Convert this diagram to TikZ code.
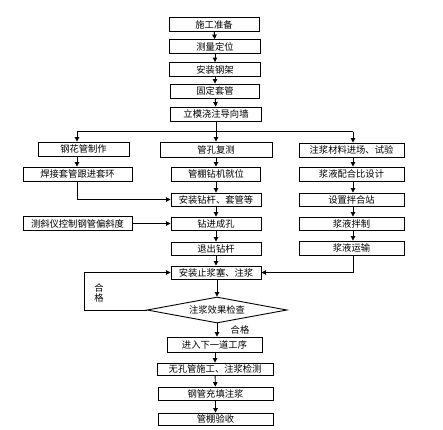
\documentclass[tikz,border=0pt]{standalone}
\usepackage{fontspec}
\newfontfamily\cjk{Noto Sans CJK SC}
\usetikzlibrary{arrows.meta,shapes.geometric}
\begin{document}
\begin{tikzpicture}[x=1pt,y=-1pt,
  box/.style={draw,line width=0.9pt,inner sep=0pt,minimum height=14pt,font=\cjk\fontsize{9.3}{9.5}\selectfont},
  lbl/.style={inner sep=0pt,font=\cjk\fontsize{9.3}{9.5}\selectfont},
  arr/.style={line width=0.9pt,-{Triangle[length=4.5pt,width=4.5pt]}},
  ln/.style={line width=0.9pt}]
\useasboundingbox (0,0) rectangle (443,429);
% top column
\node[box,minimum width=90pt] (b1) at (214,24.5) {施工准备};
\node[box,minimum width=91pt] (b2) at (215,46.5) {测量定位};
\node[box,minimum width=91pt] (b3) at (215,69.5) {安装钢架};
\node[box,minimum width=89pt] (b4) at (215,91) {固定套管};
\node[box,minimum width=91pt] (b5) at (216,114) {立模浇注导向墙};
% branch
\coordinate (brC) at (216,131.5);
\coordinate (brL) at (77,131.5);
\coordinate (brR) at (353,131.5);
% left column
\node[box,minimum width=91pt] (L1) at (83.5,149) {钢花管制作};
\node[box,minimum width=109pt] (L2) at (77.5,174) {焊接套管跟进套环};
\node[box,minimum width=109pt] (L3) at (77.5,223.5) {测斜仪控制钢管偏斜度};
% middle column
\node[box,minimum width=112pt,minimum height=15pt] (M1) at (216,149.5) {管孔复测};
\node[box,minimum width=89pt] (M2) at (216,174) {管棚钻机就位};
\node[box,minimum width=90pt,minimum height=13pt] (M3) at (216,199.5) {安装钻杆、套管等};
\node[box,minimum width=90pt,minimum height=13pt] (M4) at (216,223.5) {钻进成孔};
\node[box,minimum width=90pt,minimum height=13pt] (M5) at (216,248.5) {退出钻杆};
\node[box,minimum width=90pt,minimum height=13pt] (M6) at (216,272.5) {安装止浆塞、注浆};
% right column
\node[box,minimum width=105pt] (R1) at (351.5,150) {注浆材料进场、试验};
\node[box,minimum width=105pt] (R2) at (351.5,174) {浆液配合比设计};
\node[box,minimum width=105pt,minimum height=13pt] (R3) at (351.5,199.5) {设置拌合站};
\node[box,minimum width=105pt,minimum height=13pt] (R4) at (351.5,223.5) {浆液拌制};
\node[box,minimum width=105pt] (R5) at (351.5,248) {浆液运输};
% decision
\node[draw,line width=0.9pt,diamond,shape aspect=5.4,inner sep=0pt,minimum width=140pt,minimum height=26pt,font=\cjk\fontsize{9.3}{9.5}\selectfont] (D) at (217,310) {注浆效果检查};
% bottom
\node[box,minimum width=95pt,minimum height=15pt] (N1) at (214.5,344.5) {进入下一道工序};
\node[box,minimum width=116pt,minimum height=12pt] (N2) at (215,369) {无孔管施工、注浆检测};
\node[box,minimum width=115pt,minimum height=13pt] (N3) at (215.5,393.5) {钢管充填注浆};
\node[box,minimum width=115pt,minimum height=12pt] (N4) at (215.5,419) {管棚验收};
% labels
\node[lbl] (q1) at (99,288) {合};
\node[lbl] (q2) at (99,297.5) {格};
\node[lbl] (q3) at (240,330) {合格};
% connectors
\draw[arr] (b1) -- (b2);
\draw[arr] (b2) -- (b3);
\draw[arr] (b3) -- (b4);
\draw[arr] (b4) -- (b5);
\draw[ln] (b5.south) -- (brC);
\draw[ln] (brL) -- (brR);
\draw[arr] (brL) -- (brL |- L1.north);
\draw[arr] (brC) -- (M1.north);
\draw[arr] (brR) -- (brR |- R1.north);
\draw[arr] (L1.south -| brL) -- (brL |- L2.north);
\draw[arr] (brL |- L2.south) -- (brL |- M3.west) -- (M3.west);
\draw[arr] (L3.east) -- (M4.west);
\draw[arr] (M1) -- (M2);
\draw[arr] (M2) -- (M3);
\draw[arr] (M3) -- (M4);
\draw[arr] (M4) -- (M5);
\draw[arr] (M5) -- (M6);
\draw[arr] (brR |- R1.south) -- (brR |- R2.north);
\draw[arr] (brR |- R2.south) -- (brR |- R3.north);
\draw[arr] (brR |- R3.south) -- (brR |- R4.north);
\draw[arr] (brR |- R4.south) -- (brR |- R5.north);
\draw[arr] (brR |- R5.south) -- (brR |- M6.east) -- (M6.east);
\draw[arr] (M6.south -| D) -- (D.north);
\draw[arr] (D.west) -- (84,310) -- (84,272.5) -- (M6.west);
\draw[arr] (D.south) -- (D.south |- N1.north);
\draw[arr] (N1.south -| N2) -- (N2.north);
\draw[arr] (N2) -- (N3);
\draw[arr] (N3) -- (N4);
\end{tikzpicture}
\end{document}
